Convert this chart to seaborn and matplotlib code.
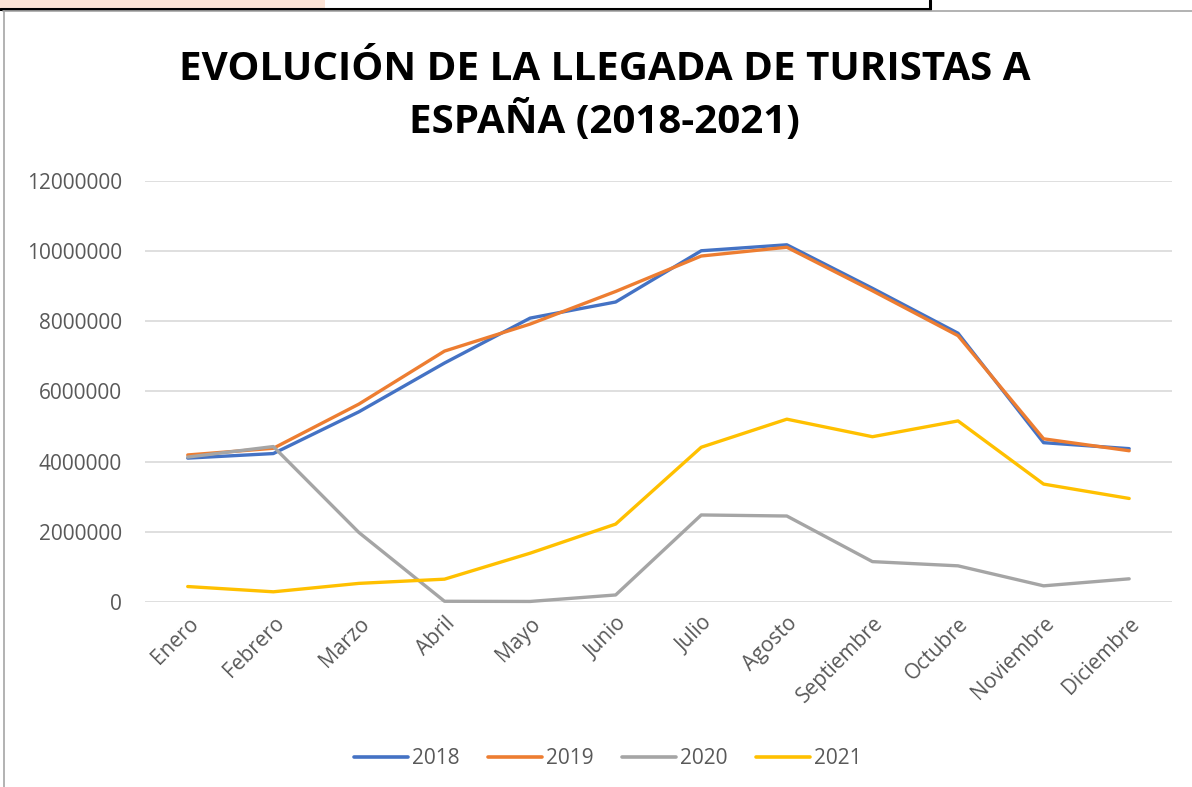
import matplotlib
matplotlib.use("Agg")
import matplotlib.pyplot as plt
import seaborn as sns
import pandas as pd
from matplotlib.patches import Rectangle
from matplotlib.lines import Line2D

months = ["Enero", "Febrero", "Marzo", "Abril", "Mayo", "Junio", "Julio",
          "Agosto", "Septiembre", "Octubre", "Noviembre", "Diciembre"]
y2018 = [4100000, 4230000, 5420000, 6810000, 8090000, 8550000, 10010000,
         10180000, 8940000, 7660000, 4540000, 4370000]
y2019 = [4190000, 4380000, 5640000, 7150000, 7920000, 8850000, 9860000,
         10110000, 8870000, 7590000, 4650000, 4310000]
y2020 = [4130000, 4430000, 1980000, 20000, 15000, 200000, 2480000,
         2450000, 1150000, 1030000, 460000, 660000]
y2021 = [440000, 290000, 530000, 650000, 1390000, 2220000, 4410000,
         5210000, 4710000, 5160000, 3360000, 2950000]
years = ["2018", "2019", "2020", "2021"]
colors = ["#4472C4", "#ED7D31", "#A5A5A5", "#FFC000"]
title = "EVOLUCIÓN DE LA LLEGADA DE TURISTAS A\nESPAÑA (2018-2021)"

frames = []
for yr, vals in zip(years, [y2018, y2019, y2020, y2021]):
    frames.append(pd.DataFrame({"Mes": list(range(len(months))), "Turistas": vals, "Año": yr}))
df = pd.concat(frames, ignore_index=True)

sns.set_theme(style="white")
plt.rcParams["font.family"] = ["Open Sans", "DejaVu Sans"]

fig = plt.figure(figsize=(11.92, 7.87), dpi=100)
ax = fig.add_axes([0.1216, 0.2351, 0.8616, 0.535])

sns.lineplot(data=df, x="Mes", y="Turistas", hue="Año", palette=colors,
             linewidth=2.4, ax=ax, sort=False, legend=True)
for ln in ax.lines:
    ln.set_clip_on(False)
    ln.set_solid_capstyle("round")

ax.set_xlim(-0.5, 11.5)
ax.set_ylim(0, 12000000)
ax.set_yticks(range(0, 12000001, 2000000))
ax.set_yticklabels([str(v) for v in range(0, 12000001, 2000000)])
ax.set_xticks(range(len(months)))
ax.set_xticklabels(months, rotation=45, ha="right", rotation_mode="anchor")
ax.tick_params(axis="y", colors="#595959", labelsize=15, length=0, pad=16.5)
ax.tick_params(axis="x", colors="#595959", labelsize=15, length=0, pad=8)
ax.yaxis.grid(True, color="#D9D9D9", linewidth=1.2)
ax.xaxis.grid(False)
for s in ax.spines.values():
    s.set_visible(False)
ax.set_xlabel("")
ax.set_ylabel("")

handles = [Line2D([0], [0], color=c, lw=2.6, solid_capstyle="round") for c in colors]
leg = fig.legend(handles, years, loc="center", bbox_to_anchor=(0.51, 0.036), ncol=4,
                 frameon=False, fontsize=15, handlelength=2.6, handletextpad=0.2,
                 columnspacing=1.35)
for t in leg.get_texts():
    t.set_color("#595959")
if ax.get_legend():
    ax.get_legend().remove()

fig.text(0.507, 0.878, title, ha="center", va="center", fontsize=29,
         fontweight="bold", color="black", linespacing=1.32)

# surrounding frame decorations
fig.patches.append(Rectangle((0, 1 - 9 / 787), 325 / 1192, 9 / 787, transform=fig.transFigure,
                             facecolor="#FCE4D6", edgecolor="none", zorder=0))
fig.lines.append(Line2D([0, 930 / 1192], [1 - 9 / 787, 1 - 9 / 787], transform=fig.transFigure,
                        color="black", lw=2.2))
fig.lines.append(Line2D([930 / 1192, 930 / 1192], [1, 1 - 9 / 787], transform=fig.transFigure,
                        color="black", lw=2.2))
fig.lines.append(Line2D([3 / 1192, 1], [1 - 11 / 787, 1 - 11 / 787], transform=fig.transFigure,
                        color="#A6A6A6", lw=1.2))
fig.lines.append(Line2D([4 / 1192, 4 / 1192], [0, 1 - 11 / 787], transform=fig.transFigure,
                        color="#A6A6A6", lw=1.2))

fig.savefig("out.png", dpi=100)
